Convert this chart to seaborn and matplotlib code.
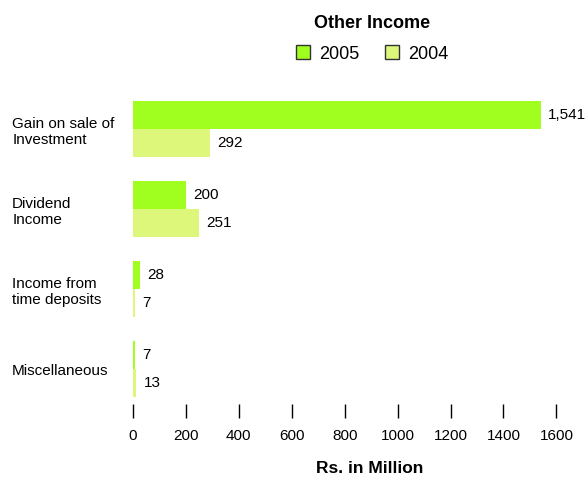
import matplotlib
matplotlib.use("Agg")
import matplotlib.pyplot as plt
from matplotlib.patches import Patch
import seaborn as sns
import pandas as pd

categories = ["Gain on sale of\nInvestment", "Dividend\nIncome",
              "Income from\ntime deposits", "Miscellaneous"]
values_2005 = [1541, 200, 28, 7]
values_2004 = [292, 251, 7, 13]
years = ["2005", "2004"]
x_ticks = [0, 200, 400, 600, 800, 1000, 1200, 1400, 1600]

color_2005 = "#a0ff1e"
color_2004 = "#dcf77a"

plt.rcParams["font.family"] = ["Liberation Sans", "DejaVu Sans"]

df = pd.DataFrame({
    "category": categories * 2,
    "year": [years[0]] * len(categories) + [years[1]] * len(categories),
    "value": values_2005 + values_2004,
})

W, H = 587, 478
fig = plt.figure(figsize=(W / 100, H / 100), dpi=100)
ax = fig.add_axes([133 / W, (H - 418) / H, 434 / W, 328 / H])

sns.barplot(data=df, y="category", x="value", hue="year", hue_order=years,
            palette=[color_2005, color_2004], orient="h", width=0.71,
            saturation=1, legend=False, ax=ax, errorbar=None)

for cont in ax.containers:
    ax.bar_label(cont, fmt="{:,.0f}", padding=5, fontsize=11, color="black")

ax.set_ylim(3.6125, -0.4875)
ax.set_xlim(0, 1640)
ax.set_xticks(x_ticks)
ax.set_xticklabels([str(t) for t in x_ticks])
for s in ax.spines.values():
    s.set_visible(False)

ax.tick_params(axis="x", direction="in", length=10, width=1, pad=8,
               labelsize=11, color="black")
ax.tick_params(axis="y", length=0, pad=87, labelsize=11)
for lbl in ax.get_yticklabels():
    lbl.set_ha("left")

ax.set_ylabel("")
ax.set_xlabel("Rs. in Million", fontsize=12.5, fontweight="bold")
ax.xaxis.set_label_coords(0.546, -0.131)

fig.text(372 / W, 1 - 24 / H, "Other Income", ha="center", va="center",
         fontsize=13, fontweight="bold")

handles = [Patch(facecolor=color_2005, edgecolor="#333333", linewidth=1),
           Patch(facecolor=color_2004, edgecolor="#333333", linewidth=1)]
fig.legend(handles, years, loc="center", bbox_to_anchor=(372 / W, 1 - 54 / H),
           ncol=2, frameon=False, fontsize=13,
           handlelength=0.8, handleheight=0.8, handletextpad=0.5,
           columnspacing=1.4)

fig.savefig("out.png", dpi=100)
